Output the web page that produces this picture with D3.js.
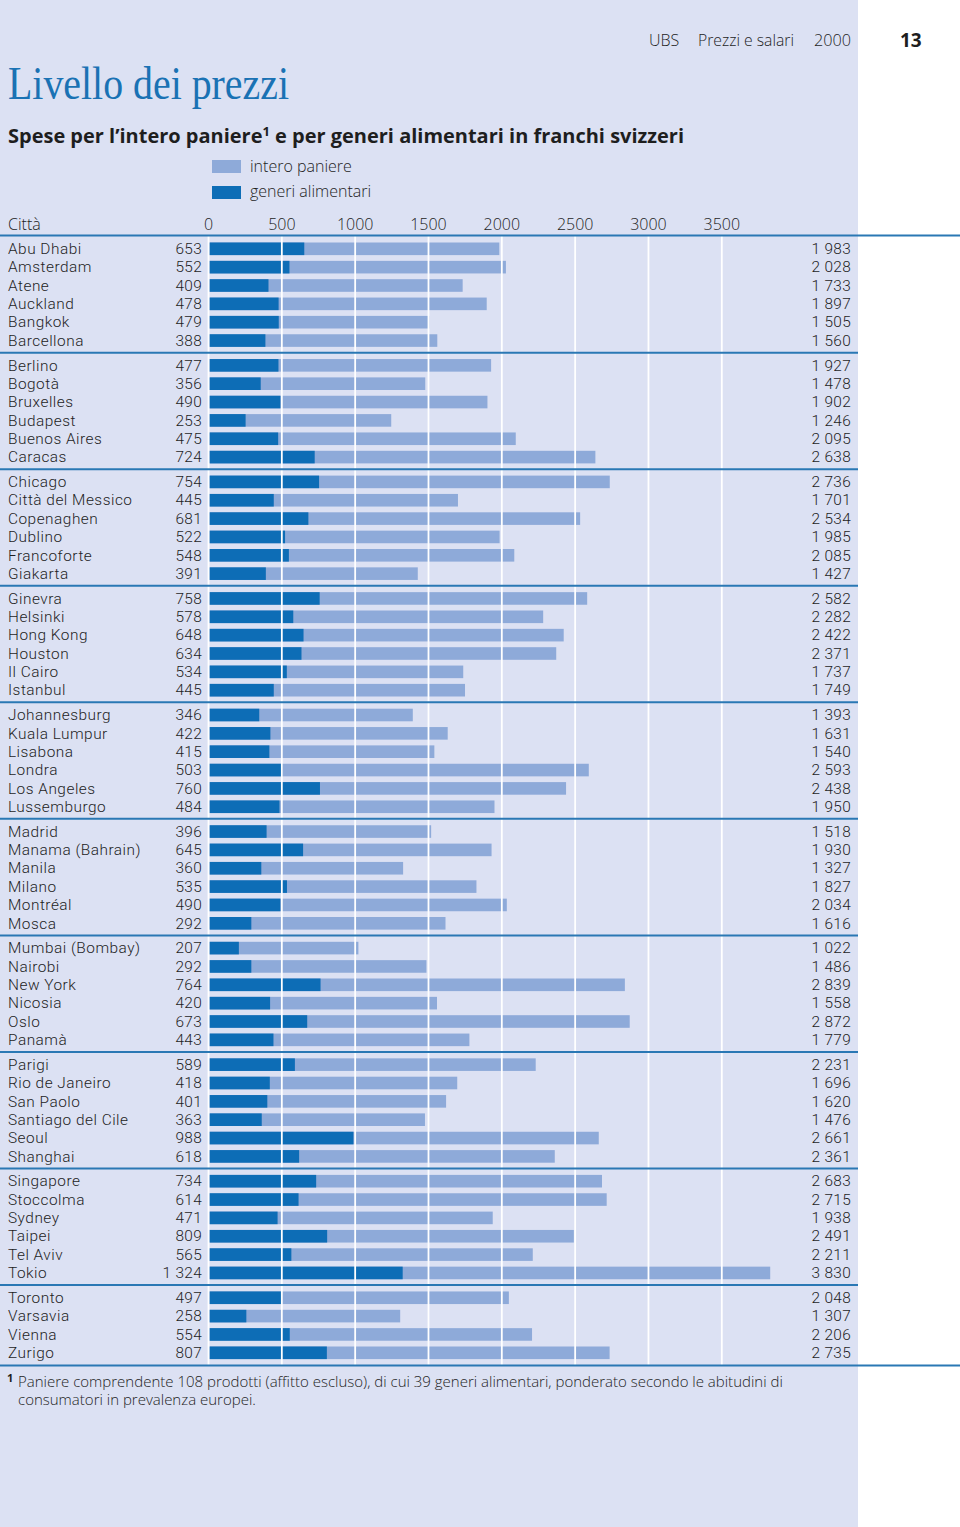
<!DOCTYPE html>
<html><head><meta charset="utf-8">
<script src="https://cdn.jsdelivr.net/npm/d3@7"></script>
<style>
body{margin:0;background:#fff;}
svg{display:block;}
text{font-family:"Open Sans","Noto Sans",sans-serif;fill:#1e1e1e;}
text.row{font-family:Roboto,"Liberation Sans",sans-serif;}
</style></head>
<body>
<script>
const cities = ["Abu Dhabi","Amsterdam","Atene","Auckland","Bangkok","Barcellona",
"Berlino","Bogotà","Bruxelles","Budapest","Buenos Aires","Caracas",
"Chicago","Città del Messico","Copenaghen","Dublino","Francoforte","Giakarta",
"Ginevra","Helsinki","Hong Kong","Houston","Il Cairo","Istanbul",
"Johannesburg","Kuala Lumpur","Lisabona","Londra","Los Angeles","Lussemburgo",
"Madrid","Manama (Bahrain)","Manila","Milano","Montréal","Mosca",
"Mumbai (Bombay)","Nairobi","New York","Nicosia","Oslo","Panamà",
"Parigi","Rio de Janeiro","San Paolo","Santiago del Cile","Seoul","Shanghai",
"Singapore","Stoccolma","Sydney","Taipei","Tel Aviv","Tokio",
"Toronto","Varsavia","Vienna","Zurigo"];
const food = [653,552,409,478,479,388,
477,356,490,253,475,724,
754,445,681,522,548,391,
758,578,648,634,534,445,
346,422,415,503,760,484,
396,645,360,535,490,292,
207,292,764,420,673,443,
589,418,401,363,988,618,
734,614,471,809,565,1324,
497,258,554,807];
const total = [1983,2028,1733,1897,1505,1560,
1927,1478,1902,1246,2095,2638,
2736,1701,2534,1985,2085,1427,
2582,2282,2422,2371,1737,1749,
1393,1631,1540,2593,2438,1950,
1518,1930,1327,1827,2034,1616,
1022,1486,2839,1558,2872,1779,
2231,1696,1620,1476,2661,2361,
2683,2715,1938,2491,2211,3830,
2048,1307,2206,2735];
const ticks = [0,500,1000,1500,2000,2500,3000,3500];
const groupSize = 6;
const seriesNames = ["intero paniere","generi alimentari"];

const W=960,H=1527;
const cLight="#8eaad9", cDark="#0d6db6", cBg="#dce1f3", cLine="#2a78b4";
const svg=d3.select("body").append("svg").attr("width",W).attr("height",H);
svg.append("rect").attr("width",W).attr("height",H).attr("fill","#fff");
svg.append("rect").attr("width",858).attr("height",H).attr("fill",cBg);

const fmt=d3.formatLocale({decimal:",",thousands:" ",grouping:[3],currency:["",""]}).format(",d");

const x=d3.scaleLinear().domain([0,3500]).range([208.5,208.5+3500*0.14666]);
const pitch=18.35, gapExtra=6.45, y0=248.5;
const yPos=d3.scaleLinear().domain([0,1]).range([y0,y0+pitch]);
const rowY=i=>yPos(i)+Math.floor(i/groupSize)*gapExtra;
const barH=12.6;
const rowFs=15.4;

const data=cities.map((c,i)=>({c,f:food[i],t:total[i],i}));

// header
svg.append("text").attr("x",649).attr("y",46).attr("font-size",16).attr("font-weight",300).text("UBS");
svg.append("text").attr("x",698).attr("y",46).attr("font-size",16).attr("font-weight",300).attr("textLength",96).attr("lengthAdjust","spacingAndGlyphs").text("Prezzi e salari");
svg.append("text").attr("x",814).attr("y",46).attr("font-size",16).attr("font-weight",300).attr("textLength",37).attr("lengthAdjust","spacingAndGlyphs").text("2000");
svg.append("text").attr("x",900).attr("y",47).attr("font-size",19).attr("font-weight",700).text("13");

svg.append("text").attr("x",8).attr("y",99).attr("font-size",46)
  .style("font-family","'Liberation Serif','DejaVu Serif',serif").style("fill","#1a72b4")
  .attr("textLength",281).attr("lengthAdjust","spacingAndGlyphs").text("Livello dei prezzi");

const sub=svg.append("text").attr("x",8).attr("y",143).attr("font-size",20).attr("font-weight",700)
  .attr("textLength",676).attr("lengthAdjust","spacingAndGlyphs");
sub.append("tspan").text("Spese per l’intero paniere");
sub.append("tspan").attr("dy",-7).attr("font-size",13).text("1");
sub.append("tspan").attr("dy",7).text(" e per generi alimentari in franchi svizzeri");

// legend
const leg=svg.append("g");
[cLight,cDark].forEach((col,k)=>{
  leg.append("rect").attr("x",212).attr("y",160+k*26).attr("width",29).attr("height",13).attr("fill",col);
  leg.append("text").attr("x",250).attr("y",172+k*25).attr("font-size",16).attr("font-weight",300).text(seriesNames[k]);
});

// axis labels
svg.append("text").attr("x",8).attr("y",230).attr("font-size",16).attr("font-weight",300).text("Città");
svg.append("g").selectAll("text").data(ticks).join("text")
  .attr("x",d=>x(d)).attr("y",230).attr("text-anchor","middle").attr("font-size",16).attr("font-weight",300).text(d=>d);

// bars
const bars=svg.append("g");
bars.selectAll("rect.t").data(data).join("rect").attr("class","t")
  .attr("x",x(0)+1).attr("y",d=>rowY(d.i)-barH/2+0.3).attr("height",barH)
  .attr("width",d=>x(d.t)-x(0)-1).attr("fill",cLight);
bars.selectAll("rect.f").data(data).join("rect").attr("class","f")
  .attr("x",x(0)+1).attr("y",d=>rowY(d.i)-barH/2+0.3).attr("height",barH)
  .attr("width",d=>x(d.f)-x(0)-1).attr("fill",cDark);

// gridlines
const lastY=rowY(cities.length-1);
svg.append("g").selectAll("line").data(ticks).join("line")
  .attr("x1",d=>x(d)).attr("x2",d=>x(d)).attr("y1",236).attr("y2",lastY+12.5)
  .attr("stroke","#fff").attr("stroke-width",1.8);

// labels
const lab=svg.append("g");
lab.selectAll("text.c").data(data).join("text").attr("class","row c")
  .attr("x",8).attr("y",d=>rowY(d.i)+5.5).attr("font-size",rowFs).attr("font-weight",300)
  .attr("letter-spacing",0.5).text(d=>d.c);
lab.selectAll("text.f").data(data).join("text").attr("class","row f")
  .attr("x",202).attr("y",d=>rowY(d.i)+5.5).attr("text-anchor","end").attr("font-size",rowFs).attr("font-weight",300)
  .attr("letter-spacing",0.3).text(d=>fmt(d.f));
lab.selectAll("text.t").data(data).join("text").attr("class","row t")
  .attr("x",851).attr("y",d=>rowY(d.i)+5.5).attr("text-anchor","end").attr("font-size",rowFs).attr("font-weight",300)
  .attr("letter-spacing",0.3).text(d=>fmt(d.t));

// separators
const nG=cities.length/groupSize;
const seps=d3.range(1,Math.ceil(nG)).map(g=>(rowY(g*groupSize-1)+rowY(g*groupSize))/2);
svg.append("g").selectAll("line").data(seps).join("line")
  .attr("x1",0).attr("x2",858).attr("y1",d=>d).attr("y2",d=>d).attr("stroke",cLine).attr("stroke-width",2);
svg.append("line").attr("x1",0).attr("x2",W).attr("y1",235.5).attr("y2",235.5).attr("stroke",cLine).attr("stroke-width",2);
svg.append("line").attr("x1",0).attr("x2",W).attr("y1",lastY+13).attr("y2",lastY+13).attr("stroke",cLine).attr("stroke-width",2);

// footnote
const fn=svg.append("g");
fn.append("text").attr("x",7).attr("y",1382).attr("font-size",11).attr("font-weight",700).text("1");
fn.append("text").attr("x",18).attr("y",1387).attr("font-size",15).attr("font-weight",300)
  .text("Paniere comprendente 108 prodotti (affitto escluso), di cui 39 generi alimentari, ponderato secondo le abitudini di");
fn.append("text").attr("x",18).attr("y",1405).attr("font-size",15).attr("font-weight",300)
  .text("consumatori in prevalenza europei.");
</script>
</body></html>
